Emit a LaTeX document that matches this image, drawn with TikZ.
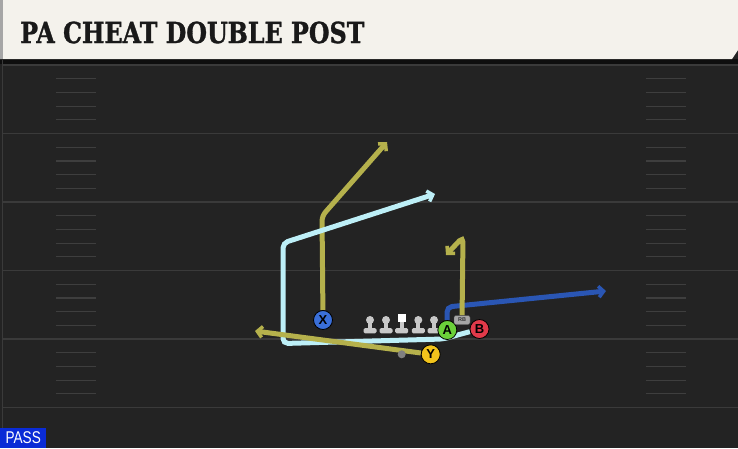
\documentclass[tikz,border=0pt]{standalone}
\usepackage{fontspec}
\setmainfont{Liberation Sans}
\newfontfamily\titlefont{DejaVu Serif}[FakeBold=1.2]
\usetikzlibrary{arrows.meta}
\definecolor{field}{HTML}{232323}
\definecolor{yardline}{HTML}{3A3A3A}
\definecolor{hashline}{HTML}{3E3E3E}
\definecolor{paper}{HTML}{F4F2EC}
\definecolor{olive}{HTML}{B5B14C}
\definecolor{skyline}{HTML}{BDEFF7}
\definecolor{deepblue}{HTML}{2A56B4}
\definecolor{xblue}{HTML}{3A6FD8}
\definecolor{yyellow}{HTML}{F2C41C}
\definecolor{agreen}{HTML}{6BD13A}
\definecolor{bred}{HTML}{E23A4A}
\definecolor{linegrey}{HTML}{C8C8C8}
\definecolor{passblue}{HTML}{0A2BD6}
\pgfdeclarelayer{fieldlayer}
\pgfdeclarelayer{routelayer}
\pgfsetlayers{fieldlayer,routelayer,main}
\begin{document}
\begin{tikzpicture}[x=1pt,y=-1pt]
\tikzstyle{route} = [line width=5pt, rounded corners=5pt, -{Straight Barb[length=5pt,width=11pt,line width=3.5pt]}]
\tikzstyle{player} = [circle, draw=black, line width=0.8pt, minimum size=19pt, inner sep=0pt, font=\bfseries\fontsize{13}{13}\selectfont]
\tikzstyle{lineman} = [fill=linegrey]

\useasboundingbox (0,0) rectangle (738,448);
\begin{pgfonlayer}{fieldlayer}
\fill [field] (0,0) rectangle (738,448);
\fill [black!60!field] (0,59) rectangle (738,64);
\draw [yardline, line width=1pt] (2,60) -- (2,448);
% yard lines and hashes
\foreach \y in {65,133.5,202,270.5,339,407.5}
		{
			\draw [yardline, line width=1.5pt] (3,\y) -- (738,\y);
		}
\foreach \y in {65,133.5,202,270.5,339}
	\foreach \k in {1,2,3,4}
		{
			\draw [hashline, line width=1.2pt] (56,\y+\k*13.7) -- (96,\y+\k*13.7);
			\draw [hashline, line width=1.2pt] (646,\y+\k*13.7) -- (686,\y+\k*13.7);
		}
\end{pgfonlayer}

% title bar
\fill [paper] (0,0) -- (738,0) -- (738,50) -- (732,59) -- (0,59) -- cycle;
\fill [black!35] (0,0) rectangle (3,59);
\node [anchor=west, inner sep=0pt, text=black!90] (title) at (20,32.5)
	{\titlefont\bfseries\fontsize{29}{29}\selectfont\scalebox{0.82}[1]{PA CHEAT DOUBLE POST}};

% line
\foreach \x in {370,386,418.3,434}
{
	\fill [lineman] (\x,320) circle (4);
	\fill [lineman] (\x-2,322) rectangle (\x+2,329);
	\fill [lineman, rounded corners=1.5pt] (\x-6.5,328) rectangle (\x+6.5,333.3);
}
\fill [white] (397.7,314.3) rectangle (405.7,321.7);
\fill [lineman] (399.7,321.7) rectangle (403.7,329);
\fill [lineman, rounded corners=1.5pt] (395.2,328) rectangle (408.2,333.3);
\fill [black!50] (401.7,354.3) circle (4);

% players
\node [player, fill=xblue] (X) at (323,320) {X};
\node [player, fill=yyellow] (Y) at (430.7,354.3) {Y};
\node [player, fill=agreen] (A) at (447.3,330) {A};
\node [player, fill=bred] (B) at (479.5,329) {B};
\node [fill=black!35, draw=black!70, rounded corners=2pt, minimum width=16pt, minimum height=9pt, inner sep=0pt, font=\bfseries\fontsize{5.5}{5.5}\selectfont, text=black!80] (RB) at (462,320) {RB};

% routes
\coordinate (xstem) at (322,216);
\coordinate (xend) at (387,142);
\coordinate (clow) at (443,339);
\coordinate (ccorner) at (283,343.5);
\coordinate (ctop) at (283,243);
\coordinate (cend) at (435,194);
\coordinate (yend) at (255,331);
\coordinate (astem) at (447,307);
\coordinate (aend) at (606,291);
\coordinate (rbtop) at (463,237);
\coordinate (rbend) at (446,255);

\begin{pgfonlayer}{routelayer}
\draw [route, olive] (X) -- (xstem) -- (xend);
\draw [route, skyline] (B) -- (clow) -- (ccorner) -- (ctop) -- (cend);
\draw [route, olive] (Y) -- (yend);
\draw [route, deepblue] (A) -- (astem) -- (aend);
\draw [route, olive] (RB) -- (rbtop) -- (rbend);
\end{pgfonlayer}

% play type
\node [fill=passblue, text=white, anchor=south west, minimum width=46pt, minimum height=20pt, inner sep=0pt, font=\fontsize{17}{17}\selectfont] (pass) at (0,448) {\scalebox{0.8}[1]{PASS}};
\end{tikzpicture}
\end{document}
